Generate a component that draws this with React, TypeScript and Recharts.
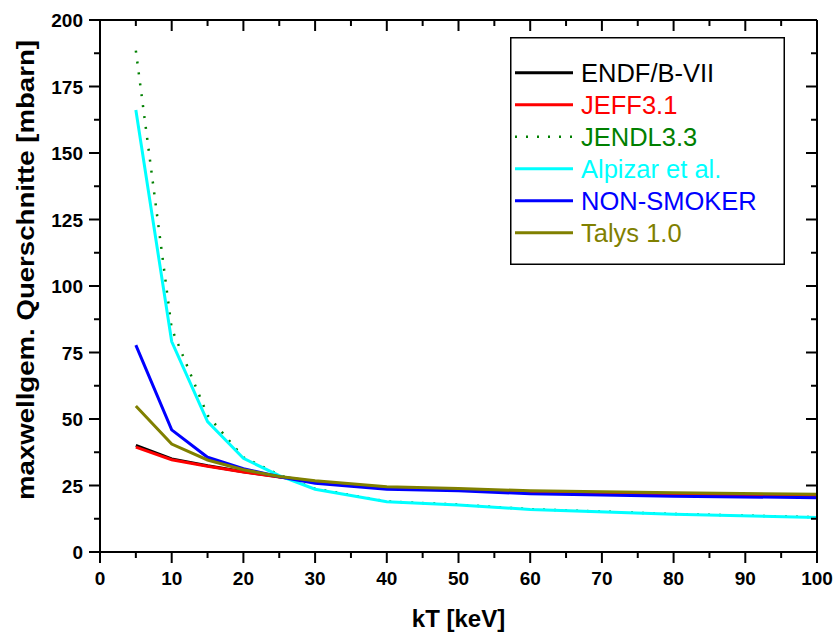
import React from 'react';
import { LineChart, Line, XAxis, YAxis, Legend } from 'recharts';

// kT grid in keV
const kT = [5, 10, 15, 20, 25, 30, 40, 50, 60, 80, 100];

// maxwellian averaged cross sections [mbarn]
const endf = [40.1, 35.0, 32.4, 30.2, 28.3, 26.4, 24.1, 23.5, 22.6, 21.7, 21.2];
const jeff = [39.4, 34.7, 32.2, 30.1, 28.2, 26.3, 24.0, 23.4, 22.5, 21.6, 21.0];
const jendl = [188.5, 84.0, 51.4, 35.6, 29.0, 23.8, 19.0, 17.8, 16.1, 14.3, 13.1];
const alpizar = [166.2, 79.1, 49.0, 35.2, 28.7, 23.6, 18.9, 17.7, 16.0, 14.2, 13.0];
const nonSmoker = [77.8, 45.9, 35.6, 31.3, 28.3, 25.8, 23.6, 23.0, 21.9, 21.0, 20.4];
const talys = [54.9, 40.6, 34.6, 30.9, 28.4, 26.8, 24.5, 23.9, 23.0, 22.3, 21.7];

const xTicks = [0, 5, 10, 15, 20, 25, 30, 35, 40, 45, 50, 55, 60, 65, 70, 75, 80, 85, 90, 95, 100];
const yTicks = [0, 12.5, 25, 37.5, 50, 62.5, 75, 87.5, 100, 112.5, 125, 137.5, 150, 162.5, 175, 187.5, 200];

const series = [
  { key: 'endf', name: 'ENDF/B-VII', color: '#000000', dash: undefined, width: 3 },
  { key: 'jeff', name: 'JEFF3.1', color: '#ff0000', dash: undefined, width: 3 },
  { key: 'jendl', name: 'JENDL3.3', color: '#008000', dash: '2 9', width: 2.5 },
  { key: 'alpizar', name: 'Alpizar et al.', color: '#00ffff', dash: undefined, width: 3 },
  { key: 'nonSmoker', name: 'NON-SMOKER', color: '#0000ff', dash: undefined, width: 3 },
  { key: 'talys', name: 'Talys 1.0', color: '#808000', dash: undefined, width: 3 },
];

const data = kT.map((t, i) => ({
  kT: t,
  endf: endf[i],
  jeff: jeff[i],
  jendl: jendl[i],
  alpizar: alpizar[i],
  nonSmoker: nonSmoker[i],
  talys: talys[i],
}));

const FONT = "'Liberation Sans', Arial, sans-serif";

const BottomTick = (props: any) => {
  const { x, y, payload } = props;
  const major = payload.value % 10 === 0;
  return (
    <g>
      <line x1={x} y1={y} x2={x} y2={y + (major ? 11 : 6)} stroke="#000" strokeWidth={2} />
      {major && (
        <text x={x} y={y + 33} textAnchor="middle" fontSize={19} fontWeight="bold" fontFamily={FONT} fill="#000">
          {payload.value}
        </text>
      )}
    </g>
  );
};

const TopTick = (props: any) => {
  const { x, y, payload } = props;
  const major = payload.value % 10 === 0;
  return <line x1={x} y1={y} x2={x} y2={y + (major ? 11 : 6)} stroke="#000" strokeWidth={2} />;
};

const LeftTick = (props: any) => {
  const { x, y, payload } = props;
  const major = payload.value % 25 === 0;
  return (
    <g>
      <line x1={x - (major ? 11 : 6)} y1={y} x2={x} y2={y} stroke="#000" strokeWidth={2} />
      {major && (
        <text x={x - 17} y={y + 7} textAnchor="end" fontSize={19} fontWeight="bold" fontFamily={FONT} fill="#000">
          {payload.value}
        </text>
      )}
    </g>
  );
};

const RightTick = (props: any) => {
  const { x, y, payload } = props;
  const major = payload.value % 25 === 0;
  return <line x1={x - (major ? 11 : 6)} y1={y} x2={x} y2={y} stroke="#000" strokeWidth={2} />;
};

const LegendBox = () => (
  <svg width={275} height={228} style={{ display: 'block' }}>
    <rect x={0.75} y={0.75} width={273.5} height={226.5} fill="#fff" stroke="#000" strokeWidth={1.5} />
    {series.map((s, i) => {
      const cy = 35.7 + i * 32;
      return (
        <g key={s.key}>
          <line x1={5} y1={cy} x2={63} y2={cy} stroke={s.color} strokeWidth={s.dash ? 2.5 : 3} strokeDasharray={s.dash} />
          <text x={71} y={cy + 9} fontSize={25.5} fontFamily={FONT} fill={s.color}>
            {s.name}
          </text>
        </g>
      );
    })}
  </svg>
);

const App = () => {
  return (
    <div style={{ position: 'absolute', left: 0, top: 0, width: 834, height: 635, background: '#fff' }}>
      <LineChart width={834} height={635} data={data} margin={{ top: 20, right: 17, bottom: 0, left: 0 }} style={{ fontFamily: FONT }}>
        <XAxis
          dataKey="kT"
          type="number"
          domain={[0, 100]}
          ticks={xTicks}
          interval={0}
          allowDataOverflow
          height={83}
          tickSize={0}
          tickMargin={0}
          tickLine={false}
          tick={<BottomTick />}
          axisLine={{ stroke: '#000', strokeWidth: 2 }}
          label={() => (
            <text x={458.5} y={627} textAnchor="middle" fontSize={24} fontWeight="bold" fontFamily={FONT} fill="#000">
              kT [keV]
            </text>
          )}
        />
        <XAxis
          xAxisId="top"
          dataKey="kT"
          type="number"
          orientation="top"
          mirror
          domain={[0, 100]}
          ticks={xTicks}
          interval={0}
          allowDataOverflow
          tickSize={0}
          tickMargin={0}
          tickLine={false}
          tick={<TopTick />}
          axisLine={{ stroke: '#000', strokeWidth: 2 }}
        />
        <YAxis
          type="number"
          domain={[0, 200]}
          ticks={yTicks}
          interval={0}
          allowDataOverflow
          width={100}
          tickSize={0}
          tickMargin={0}
          tickLine={false}
          tick={<LeftTick />}
          axisLine={{ stroke: '#000', strokeWidth: 2 }}
          label={() => (
            <text
              x={0}
              y={0}
              transform="translate(34 270) rotate(-90)"
              textAnchor="middle"
              fontSize={23}
              fontWeight="bold"
              fontFamily={FONT}
              fill="#000"
              textLength={460}
              lengthAdjust="spacingAndGlyphs"
            >
              maxwellgem. Querschnitte [mbarn]
            </text>
          )}
        />
        <YAxis
          yAxisId="right"
          type="number"
          orientation="right"
          mirror
          domain={[0, 200]}
          ticks={yTicks}
          interval={0}
          allowDataOverflow
          tickSize={0}
          tickMargin={0}
          tickLine={false}
          tick={<RightTick />}
          axisLine={{ stroke: '#000', strokeWidth: 2 }}
        />
        <Legend
          layout="horizontal"
          verticalAlign="middle"
          align="center"
          content={() => <LegendBox />}
          wrapperStyle={{ left: 510, top: 37, width: 275, height: 228, right: 'auto', bottom: 'auto' }}
        />
        {series.map((s) => (
          <Line
            key={s.key}
            type="linear"
            dataKey={s.key}
            name={s.name}
            stroke={s.color}
            strokeWidth={s.width}
            strokeDasharray={s.dash}
            dot={false}
            activeDot={false}
            isAnimationActive={false}
          />
        ))}
      </LineChart>
    </div>
  );
};

export default App;
